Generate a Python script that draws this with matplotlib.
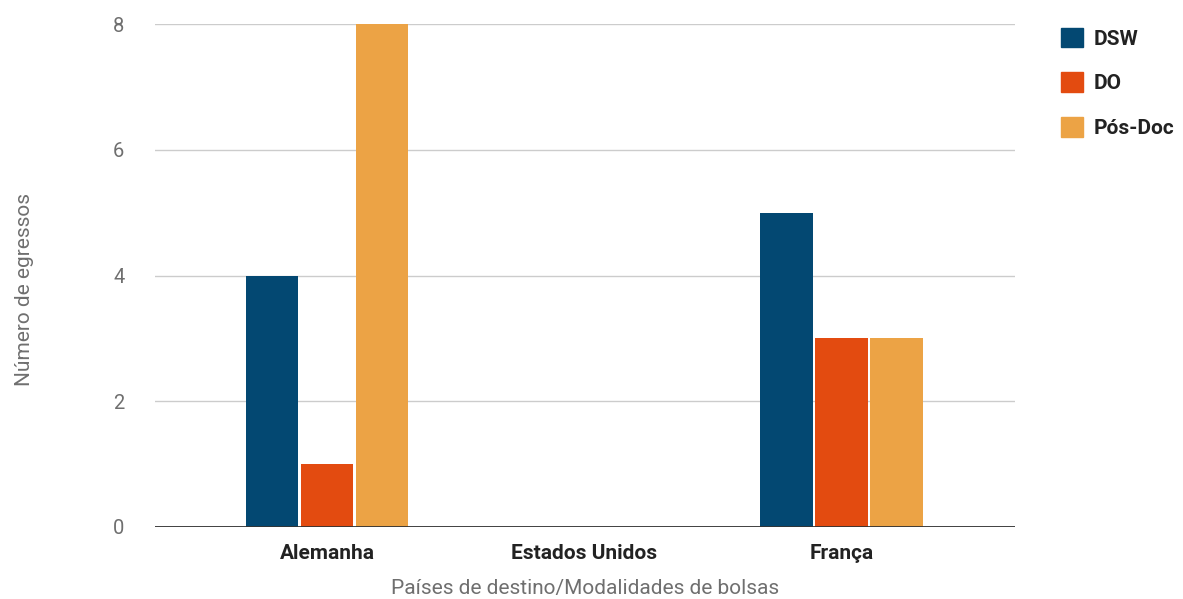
import matplotlib
matplotlib.use("Agg")
import matplotlib.pyplot as plt
import matplotlib.patches as mpatches
import numpy as np

plt.rcParams["font.family"] = ["Roboto", "DejaVu Sans"]

# dados
paises = ["Alemanha", "Estados Unidos", "França"]
series = ["DSW", "DO", "Pós-Doc"]
dsw = [4, 0, 5]
do = [1, 0, 3]
posdoc = [8, 0, 3]
yticks = [0, 2, 4, 6, 8]

CORES = ["#034872", "#e34b10", "#eca345"]
GRID = "#cccccc"
CINZA = "#6f6f6f"
TEXT = "#222222"

fig = plt.figure(figsize=(11.83, 5.99), dpi=100)
fig.patch.set_facecolor("white")
ax = fig.add_axes([155 / 1183, 72 / 599, 860 / 1183, 503 / 599])

x = np.arange(len(paises))
w = 0.203
off = 0.214
for i, (vals, cor) in enumerate(zip([dsw, do, posdoc], CORES)):
    ax.bar(x + (i - 1) * off, vals, width=w, color=cor, zorder=3)

ax.set_xlim(-0.67, 2.675)
ax.set_ylim(0, 8)
ax.set_yticks(yticks)
ax.set_xticks(x)
ax.set_xticklabels(paises, fontsize=15, fontweight="bold", color=TEXT)
ax.grid(axis="y", color=GRID, linewidth=1, zorder=1)
ax.axhline(0, color="#333333", linewidth=1.3, zorder=4)
for s in ax.spines.values():
    s.set_visible(False)
ax.tick_params(axis="y", length=0, pad=22, labelsize=14.5, labelcolor=CINZA)
ax.tick_params(axis="x", length=0, pad=12)

ax.set_xlabel("Países de destino/Modalidades de bolsas", fontsize=15,
              color=CINZA, labelpad=12)
ax.set_ylabel("Número de egressos", fontsize=15, color=CINZA)
ax.yaxis.set_label_coords(-(155 - 34) / 860, (527 - 290) / 503)

handles = [mpatches.Patch(color=c, label=s) for c, s in zip(CORES, series)]
leg = fig.legend(handles=handles, loc="upper left",
                 bbox_to_anchor=(1042 / 1183, 1 - 9 / 599),
                 frameon=False, handlelength=1.05, handleheight=1.05,
                 handletextpad=0.55, labelspacing=1.15,
                 prop={"size": 15, "weight": "bold"})
for t in leg.get_texts():
    t.set_color(TEXT)

fig.savefig("out.png", dpi=100, facecolor="white")
